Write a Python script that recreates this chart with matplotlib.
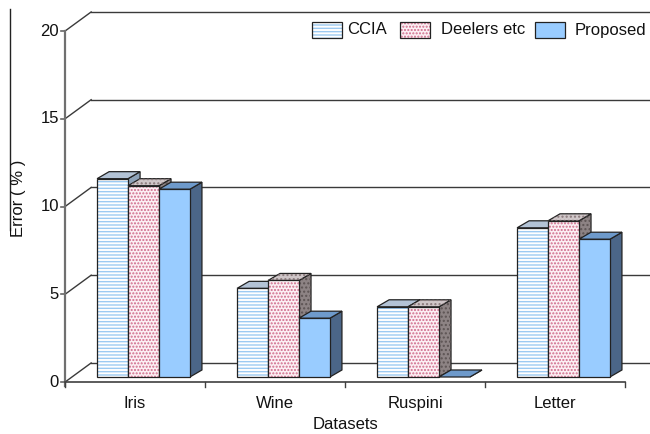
import numpy as np
import matplotlib
matplotlib.use('Agg')
import matplotlib.pyplot as plt
from matplotlib.patches import Polygon, Rectangle

plt.rcParams['font.family'] = ['Liberation Sans', 'DejaVu Sans']
plt.rcParams['hatch.linewidth'] = 1.0

# data
datasets = ['Iris', 'Wine', 'Ruspini', 'Letter']
series = ['CCIA', 'Deelers etc', 'Proposed']
ccia = [11.3, 5.05, 4.0, 8.5]
deelers = [10.9, 5.5, 4.0, 8.9]
proposed = [10.7, 3.35, 0.0, 7.85]
yticks = [0, 5, 10, 15, 20]

# pseudo-3d geometry (x in category units, y in value units)
BAR_W = 0.221
DEPTH_DX, DEPTH_DY = 0.086, 0.40      # bar depth
FRONT_DX, FRONT_DY = -0.06, -0.285    # front plane relative to bars
WALL_DX, WALL_DY = 0.126, 0.80        # back wall relative to bars
PX_X, PX_Y = 140.0, 17.55             # pixels per unit
FS = 12

styles = [
    dict(face='white', hatch='-----', hcol='#9ccaf2', top='#b3c3d6', side='#8da2b8', thatch=None),
    dict(face='#fcf0f4', hatch='.....', hcol='#cf6a8a', top='#cfc6c8', side='#8d8384', thatch='....'),
    dict(face='#99ccff', hatch=None, hcol=None, top='#6e9acb', side='#4b6688', thatch=None),
]

fig = plt.figure(figsize=(6.5, 4.34), dpi=100)
ax = fig.add_axes([0, 0, 1, 1])
ax.set_xlim(-143.5 / PX_X, (650 - 143.5) / PX_X)
ax.set_ylim((377 - 434) / PX_Y, 377 / PX_Y)
ax.axis('off')

n = len(datasets)
x = np.arange(n)
x_front = -0.5 + FRONT_DX
x_wall = -0.5 + WALL_DX
x_end = ax.get_xlim()[1] + 0.1
grid_col = '#3a3a3a'

# back wall gridlines and left wall diagonals
for v in yticks:
    ax.plot([x_wall, x_end], [v + WALL_DY, v + WALL_DY], color=grid_col, lw=1.0, zorder=1)
    ax.plot([x_front, x_wall], [v + FRONT_DY, v + WALL_DY], color=grid_col, lw=1.0, zorder=1)
    ax.plot([x_front - 0.03, x_front], [v + FRONT_DY, v + FRONT_DY], color='#666666', lw=1.2, zorder=2)
    ax.text(x_front - 0.045, v + FRONT_DY, str(v), ha='right', va='center', fontsize=FS, color='#111111')

# front value axis
ax.plot([x_front, x_front], [FRONT_DY - 0.25, 20 + FRONT_DY], color='#707070', lw=1.6, zorder=2)
# category axis
ax.plot([x_front, n - 0.5 + FRONT_DX], [FRONT_DY, FRONT_DY], color='#404040', lw=1.2, zorder=2)
for b in range(n + 1):
    xb = b - 0.5 + FRONT_DX
    ax.plot([xb, xb], [FRONT_DY, FRONT_DY - 0.3], color='#404040', lw=1.0, zorder=2)
for i, name in enumerate(datasets):
    ax.text(i + FRONT_DX, FRONT_DY - 1.2, name, ha='center', va='center', fontsize=FS, color='#111111')
ax.text(1.5 + FRONT_DX, FRONT_DY - 2.45, 'Datasets', ha='center', va='center', fontsize=FS, color='#111111')
ax.text(-124.5 / PX_X, (377 - 198) / PX_Y, 'Error ( % )', rotation=90, ha='center', va='center',
        fontsize=FS, color='#111111')
ax.plot([-133.5 / PX_X, -133.5 / PX_X], [(377 - 9) / PX_Y, (377 - 230) / PX_Y], color='#222222', lw=1.0)


def draw_bar(x0, h, st, z):
    x1 = x0 + BAR_W
    # side face
    side = Polygon([(x1, 0), (x1 + DEPTH_DX, DEPTH_DY), (x1 + DEPTH_DX, h + DEPTH_DY), (x1, h)],
                   closed=True, facecolor=st['side'], edgecolor='#222222', lw=0.9, zorder=z)
    ax.add_patch(side)
    if st['thatch']:
        ax.add_patch(Polygon(side.get_xy(), closed=True, facecolor='none', edgecolor='#5d5454',
                             hatch=st['thatch'], lw=0, zorder=z))
    # top face
    top = Polygon([(x0, h), (x0 + DEPTH_DX, h + DEPTH_DY), (x1 + DEPTH_DX, h + DEPTH_DY), (x1, h)],
                  closed=True, facecolor=st['top'], edgecolor='#222222', lw=0.9, zorder=z)
    ax.add_patch(top)
    if st['thatch']:
        ax.add_patch(Polygon(top.get_xy(), closed=True, facecolor='none', edgecolor='#8a7a7c',
                             hatch=st['thatch'], lw=0, zorder=z))
    if h <= 0:
        return
    # front face
    ax.bar(x0, h, width=BAR_W, align='edge', color=st['face'], lw=0, zorder=z)
    if st['hatch']:
        ax.bar(x0, h, width=BAR_W, align='edge', color='none', edgecolor=st['hcol'],
               hatch=st['hatch'], lw=0, zorder=z)
    ax.bar(x0, h, width=BAR_W, align='edge', color='none', edgecolor='#222222', lw=0.9, zorder=z)


for k, vals in enumerate([ccia, deelers, proposed]):
    for i, h in enumerate(vals):
        # later series drawn on top so they hide the earlier series' side faces
        draw_bar(x[i] - 1.5 * BAR_W + k * BAR_W, h, styles[k], 3 + k)

# legend
leg_y = (377 - 30) / PX_Y
leg_items = [(312, 347), (400, 441), (535, 575)]
for (px0, ptx), name, st in zip(leg_items, series, styles):
    lx = (px0 - 143.5) / PX_X
    lw_ = 30 / PX_X
    lh = 15 / PX_Y
    ax.add_patch(Rectangle((lx, leg_y - lh / 2), lw_, lh, facecolor=st['face'], lw=0, zorder=5))
    if st['hatch']:
        ax.add_patch(Rectangle((lx, leg_y - lh / 2), lw_, lh, facecolor='none', edgecolor=st['hcol'],
                               hatch=st['hatch'], lw=0, zorder=5))
    ax.add_patch(Rectangle((lx, leg_y - lh / 2), lw_, lh, facecolor='none', edgecolor='#222222',
                           lw=0.9, zorder=5))
    ax.text((ptx - 143.5) / PX_X, leg_y, name, ha='left', va='center', fontsize=FS, color='#111111')

fig.savefig('out.png', dpi=100)
